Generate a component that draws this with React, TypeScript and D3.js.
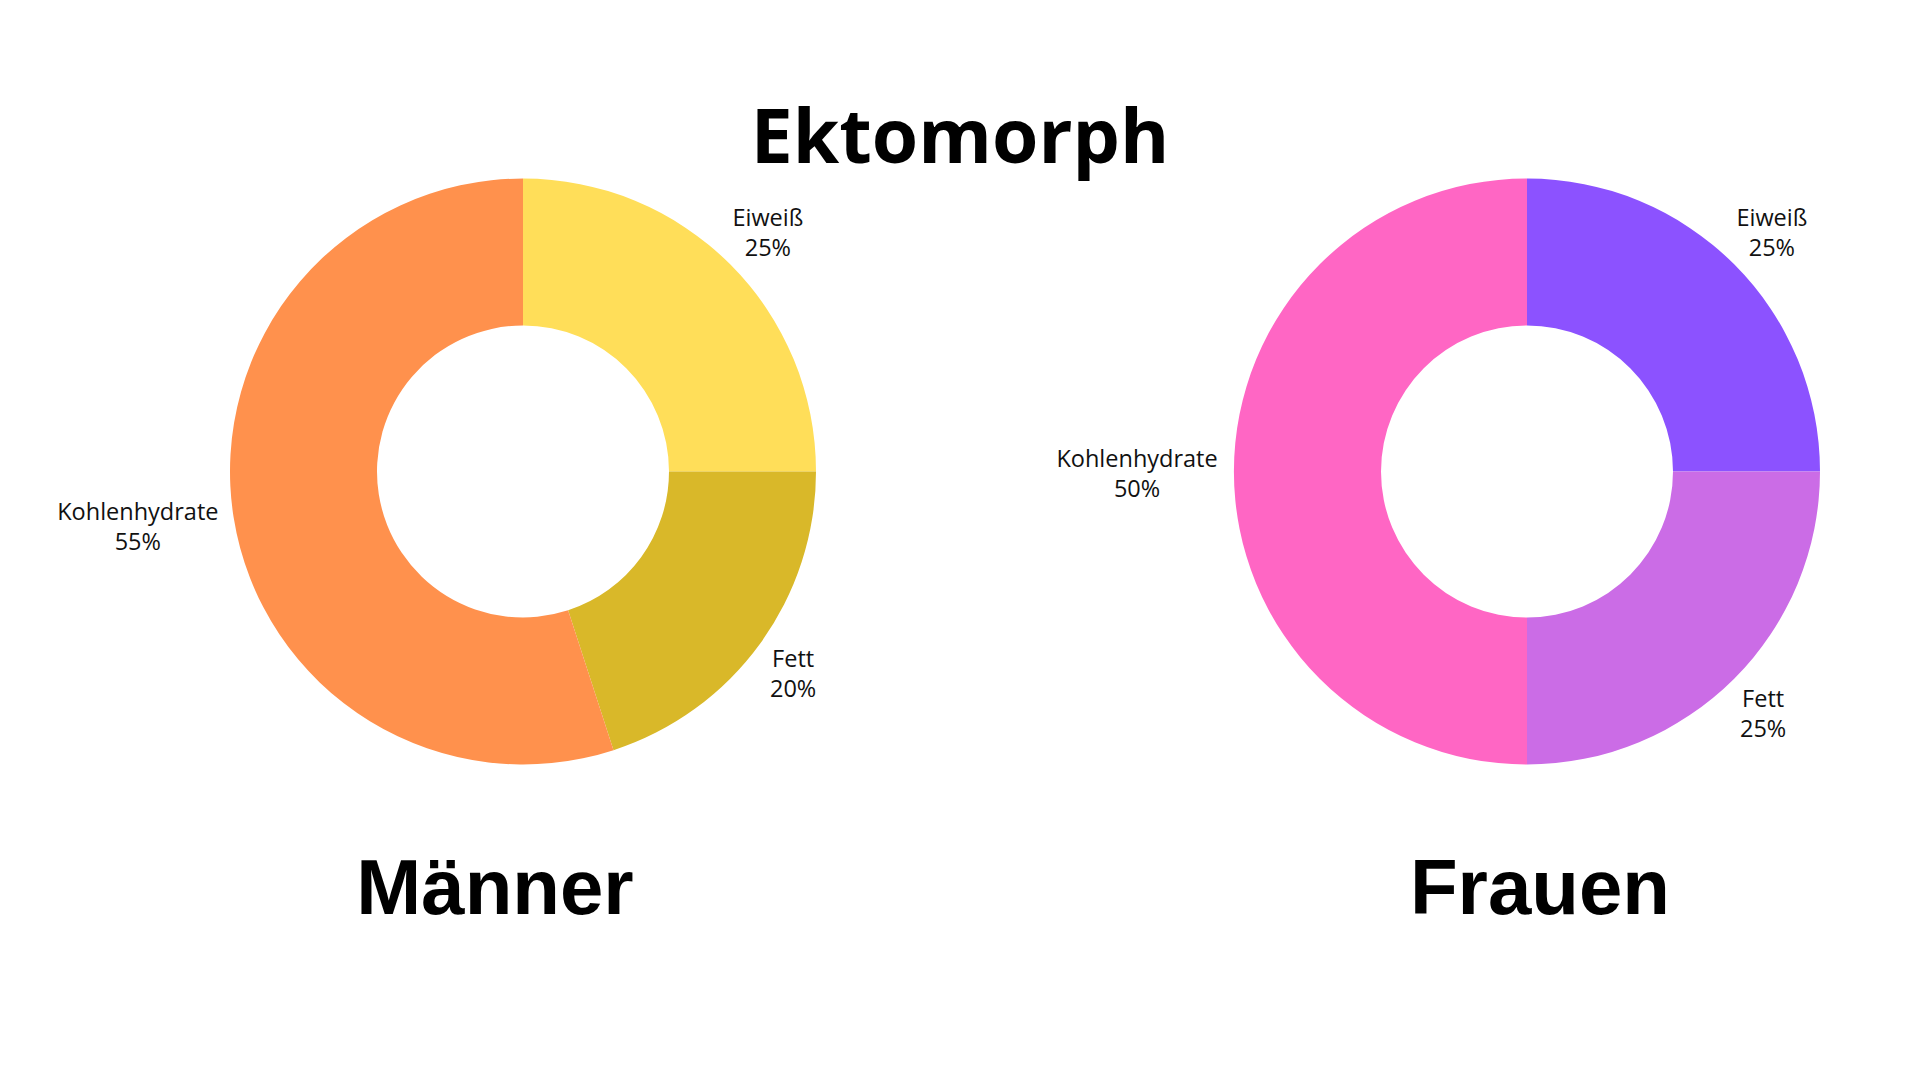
import * as d3 from 'd3'

const title = 'Ektomorph'
const nutrients = ['Eiweiß', 'Fett', 'Kohlenhydrate']
const groups = ['Männer', 'Frauen']
const menValues = [25, 20, 55]
const womenValues = [25, 25, 50]
const menColors = ['#FFDE59', '#D9B829', '#FF914D']
const womenColors = ['#8C52FF', '#CB6CE6', '#FF66C4']

const W = 1920
const H = 1080
const outerR = 293
const innerR = 146
const labelGap = 16
const labelSize = 23.5
const lineH = 30
const labelFont = '"Open Sans", sans-serif'

// rough text width estimate for label placement
const textWidth = (s: string, size: number) => s.length * size * 0.53

interface DonutProps {
  cx: number
  cy: number
  nameX: number
  values: number[]
  colors: string[]
  name: string
}

function Donut({ cx, cy, nameX, values, colors, name }: DonutProps) {
  const pie = d3.pie<number>().sort(null).value(d => d)
  const arc = d3.arc<d3.PieArcDatum<number>>().innerRadius(innerR).outerRadius(outerR)
  const arcs = pie(values)
  const total = d3.sum(values)

  return (
    <g>
      <g transform={`translate(${cx},${cy})`}>
        {arcs.map((a, i) => (
          <path key={i} d={arc(a) || ''} fill={colors[i]} />
        ))}
        {arcs.map((a, i) => {
          const theta = (a.startAngle + a.endAngle) / 2
          const s = Math.sin(theta)
          const c = Math.cos(theta)
          const pct = `${Math.round((a.value / total) * 100)}%`
          const halfW = Math.max(textWidth(nutrients[i], labelSize), textWidth(pct, labelSize)) / 2
          const halfH = lineH * 1.05
          const x = (outerR + labelGap) * s + halfW * s
          const y = -(outerR + labelGap) * c - halfH * c + 2
          return (
            <text
              key={'l' + i}
              x={x}
              y={y}
              textAnchor="middle"
              fontFamily={labelFont}
              fontSize={labelSize}
              fill="#111"
            >
              <tspan x={x} dy={-lineH / 2 + 8}>{nutrients[i]}</tspan>
              <tspan x={x} dy={lineH}>{pct}</tspan>
            </text>
          )
        })}
      </g>
      <text
        x={nameX}
        y={cy + 442}
        textAnchor="middle"
        fontFamily='"Liberation Sans", Arial, sans-serif'
        fontWeight={700}
        fontSize={78}
        fill="#000"
      >
        {name}
      </text>
    </g>
  )
}

export default function App() {
  return (
    <svg
      width={W}
      height={H}
      style={{ position: 'absolute', left: 0, top: 0, background: '#fff' }}
    >
      <rect width={W} height={H} fill="#fff" />
      <text
        x={960}
        y={163}
        textAnchor="middle"
        fontFamily='"Open Sans", sans-serif'
        fontWeight={700}
        fontSize={75}
        fill="#000"
      >
        {title}
      </text>
      <Donut cx={523} cy={471.5} nameX={495} values={menValues} colors={menColors} name={groups[0]} />
      <Donut cx={1527} cy={471.5} nameX={1540} values={womenValues} colors={womenColors} name={groups[1]} />
    </svg>
  )
}
